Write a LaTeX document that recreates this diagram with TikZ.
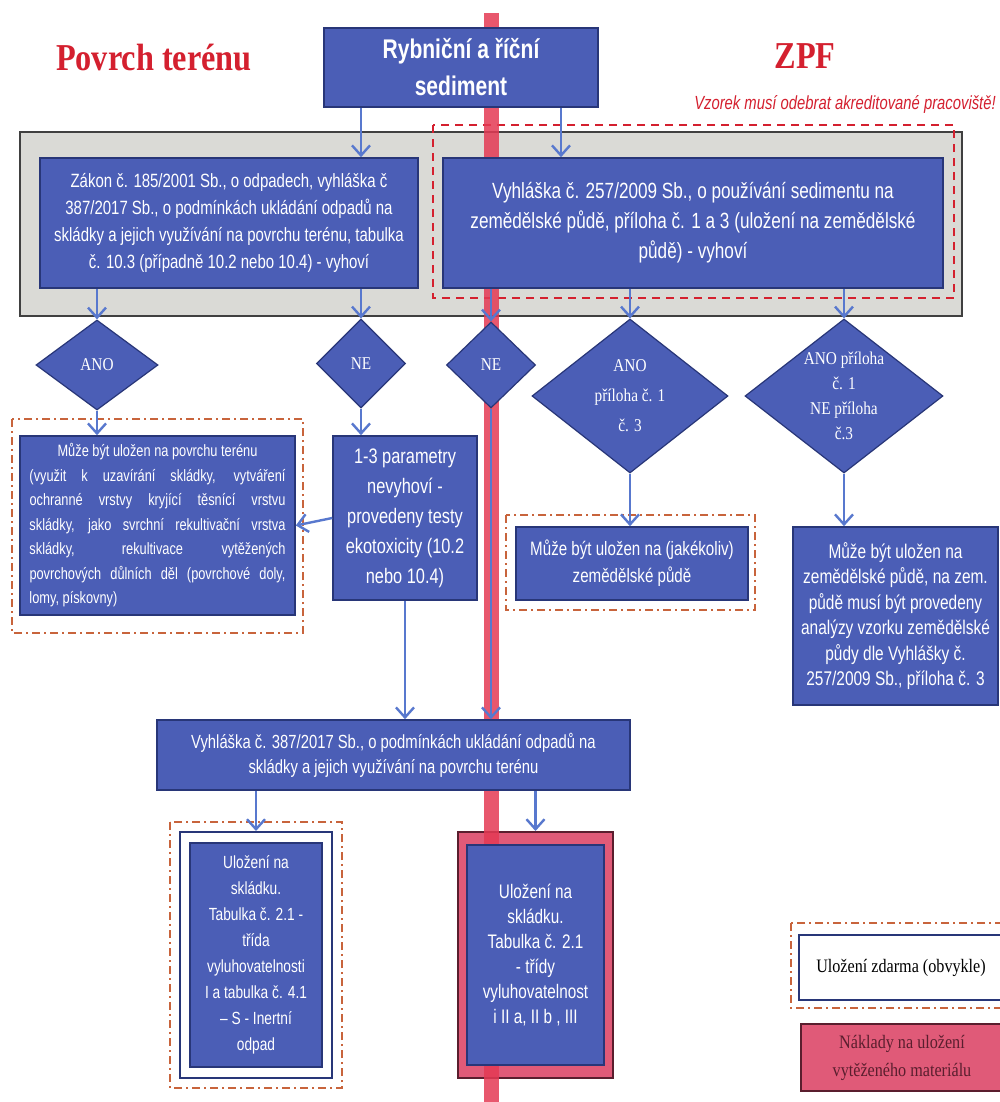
\documentclass[tikz,border=0pt]{standalone}
\usepackage{fontspec}
\setmainfont{Liberation Serif}
\newfontfamily\narrowsans[FakeStretch=0.78]{Liberation Sans}
\newfontfamily\narrowserif[FakeStretch=0.85]{Liberation Serif}
\usetikzlibrary{shapes.geometric,arrows.meta,positioning}

\definecolor{boxblue}{RGB}{75,94,182}
\definecolor{boxedge}{RGB}{40,54,120}
\definecolor{arrowblue}{RGB}{88,120,206}
\definecolor{panelgray}{RGB}{218,218,214}
\definecolor{barred}{RGB}{228,58,84}
\definecolor{titlered}{RGB}{212,32,47}
\definecolor{framebrown}{RGB}{200,100,60}
\definecolor{paidpink}{RGB}{224,90,120}
\definecolor{paidtext}{RGB}{90,30,46}

\newcommand{\fs}[2]{\fontsize{#1}{#2}\selectfont}

\tikzset{
  bluebox/.style={rectangle, draw=boxedge, fill=boxblue, line width=0.8pt, text=white, align=center, inner sep=2pt},
  choice/.style={diamond, draw=boxedge, fill=boxblue, line width=0.6pt, text=white, align=center, inner sep=0pt, font=\narrowserif\fs{9}{12.5}},
  arr/.style={draw=arrowblue, line width=1.2pt, -{Straight Barb[length=5pt,width=9pt,line width=1.2pt]}},
  freeframe/.style={draw=framebrown, line width=1pt, dash pattern=on 4pt off 2pt on 1pt off 2pt},
  zpfline/.style={draw=titlered, line width=1.2pt, dash pattern=on 4pt off 3pt},
  freebox/.style={rectangle, draw=boxedge, fill=white, line width=1pt},
  paidbox/.style={rectangle, draw=paidtext, fill=paidpink, line width=1pt},
  heading/.style={text=titlered, font=\narrowserif\bfseries\fs{19}{22}}
}

\begin{document}
\begin{tikzpicture}[x=0.5pt,y=-0.5pt]
\useasboundingbox[fill=white] (0,0) rectangle (1000,1102);

% background panel and frames
\draw[draw=black!75, fill=panelgray, line width=0.9pt] (20,132) rectangle (962,316);
\draw[zpfline] (433,125) rectangle (954,298);
\draw[freeframe] (12,419) rectangle (303,633);
\draw[freeframe] (506,515) rectangle (755,610);
\draw[freeframe] (170,822) rectangle (342,1088);
\draw[freeframe] (791,923) rectangle (1010,1008);
\node[freebox, minimum width=76pt, minimum height=123pt] (freeL) at (256,955) {};
\node[paidbox, minimum width=77.5pt, minimum height=123pt] (paidR) at (535.5,955) {};

% red border line
\fill[barred, opacity=0.85] (484,13) rectangle (499,1102);

% headings
\node[heading] (hpovrch) at (154,58) {Povrch terénu};
\node[heading] (hzpf) at (805,56) {ZPF};
\node[text=titlered, font=\narrowsans\itshape\fs{9.5}{11}] (hnote) at (845,104) {Vzorek musí odebrat akreditované pracoviště!};

% boxes
\node[bluebox, font=\narrowsans\bfseries\fs{13.5}{18.5}, minimum width=137pt, minimum height=39.5pt] (src) at (461,67.5) {Rybniční a říční\\sediment};
\node[bluebox, font=\narrowsans\fs{9.6}{13.5}, minimum width=189pt, minimum height=65pt] (zakon) at (229,223) {Zákon č. 185/2001 Sb., o odpadech, vyhláška č\\387/2017 Sb., o podmínkách ukládání odpadů na\\skládky a jejich využívání na povrchu terénu, tabulka\\č. 10.3 (případně 10.2 nebo 10.4) - vyhoví};
\node[bluebox, font=\narrowsans\fs{11}{15}, minimum width=250pt, minimum height=65pt] (vyhlzpf) at (693,223) {Vyhláška č. 257/2009 Sb., o používání sedimentu na\\zemědělské půdě, příloha č. 1 a 3 (uložení na zemědělské\\půdě) - vyhoví};

% decisions
\node[choice, minimum width=61pt, minimum height=45pt] (anoL) at (97,365) {ANO};
\node[choice, minimum width=44.5pt, minimum height=44.5pt] (neL) at (361,363.5) {NE};
\node[choice, minimum width=44.5pt, minimum height=43pt] (neM) at (491,365) {NE};
\node[choice, aspect=1.27, font=\narrowserif\fs{9}{15}, minimum width=98pt, minimum height=77pt] (anoM) at (630,396) {ANO\\příloha č. 1\\č. 3};
\node[choice, aspect=1.27, minimum width=99pt, minimum height=77pt] (anoR) at (844,396) {ANO příloha\\č. 1\\NE příloha\\č.3};

\node[bluebox, font=\narrowsans\fs{8.2}{12.25}, align=justify, text width=128pt, minimum width=137.5pt, minimum height=89.5pt] (povrch) at (157.5,525.5) {\hfill Může být uložen na povrchu terénu\hfill\null\linebreak (využit k uzavírání skládky, vytváření\linebreak ochranné vrstvy kryjící těsnící vrstvu\linebreak skládky, jako svrchní rekultivační vrstva\linebreak skládky, rekultivace vytěžených\linebreak povrchových důlních děl (povrchové doly,\linebreak lomy, pískovny)};
\node[bluebox, font=\narrowsans\fs{10.5}{15}, minimum width=72pt, minimum height=82pt] (onetothree) at (405,518) {1-3 parametry\\nevyhoví -\\provedeny testy\\ekotoxicity (10.2\\nebo 10.4)};
\node[bluebox, font=\narrowsans\fs{9.7}{13.5}, minimum width=116pt, minimum height=36.5pt] (jakekoliv) at (632,563.5) {Může být uložen na (jakékoliv)\\zemědělské půdě};
\node[bluebox, font=\narrowsans\fs{9.9}{12.7}, minimum width=102.5pt, minimum height=89pt] (zemright) at (895.5,616) {Může být uložen na\\zemědělské půdě, na zem.\\půdě musí být provedeny\\analýzy vzorku zemědělské\\půdy dle Vyhlášky č.\\257/2009 Sb., příloha č. 3};
\node[bluebox, font=\narrowsans\fs{9.5}{12.5}, minimum width=236.5pt, minimum height=35pt] (vyhl387) at (393.5,755) {Vyhláška č. 387/2017 Sb., o podmínkách ukládání odpadů na\\skládky a jejich využívání na povrchu terénu};
\node[bluebox, font=\narrowsans\fs{8.8}{13}, minimum width=66pt, minimum height=112pt] (blueL) at (256,955) {Uložení na\\skládku.\\Tabulka č. 2.1 -\\třída\\vyluhovatelnosti\\I a tabulka č. 4.1\\– S - Inertní\\odpad};
\node[bluebox, font=\narrowsans\fs{9.8}{12.5}, minimum width=68.5pt, minimum height=110pt] (blueR) at (535.5,955) {Uložení na\\skládku.\\Tabulka č. 2.1\\- třídy\\vyluhovatelnost\\i II a, II b , III};

% legend
\node[freebox, font=\narrowserif\fs{9.5}{12}, minimum width=102pt, minimum height=32.5pt] (legfree) at (901,967.5) {Uložení zdarma (obvykle)};
\node[paidbox, text=paidtext, align=center, font=\narrowserif\fs{9.5}{14}, minimum width=101pt, minimum height=33.5pt] (legpaid) at (902,1057.5) {Náklady na uložení\\vytěženého materiálu};

% connectors
\draw[arr] (src.south -| neL) -- (zakon.north -| neL);
\draw[arr] ([xshift=50pt]src.south) -- ([xshift=50pt]src.south |- vyhlzpf.north);
\draw[arr] (zakon.south -| anoL) -- (anoL.north);
\draw[arr] (zakon.south -| neL) -- (neL.north);
\draw[arr] (vyhlzpf.south -| neM) -- (neM.north);
\draw[arr] (vyhlzpf.south -| anoM) -- (anoM.north);
\draw[arr] (vyhlzpf.south -| anoR) -- (anoR.north);
\draw[arr] (anoL.south) -- (anoL.south |- povrch.north);
\draw[arr] (neL.south) -- (neL.south |- onetothree.north);
\draw[arr] (onetothree.west) -- (povrch.east);
\draw[arr] (anoM.south) -- (anoM.south |- jakekoliv.north);
\draw[arr] (anoR.south) -- (anoR.south |- zemright.north);
\draw[arr] (onetothree.south) -- (onetothree.south |- vyhl387.north);
\draw[arr] (neM.south) -- (neM.south |- vyhl387.north);
\draw[arr] (vyhl387.south -| blueL) -- (freeL.north);
\draw[arr] (vyhl387.south -| blueR) -- (paidR.north);
\end{tikzpicture}
\end{document}
